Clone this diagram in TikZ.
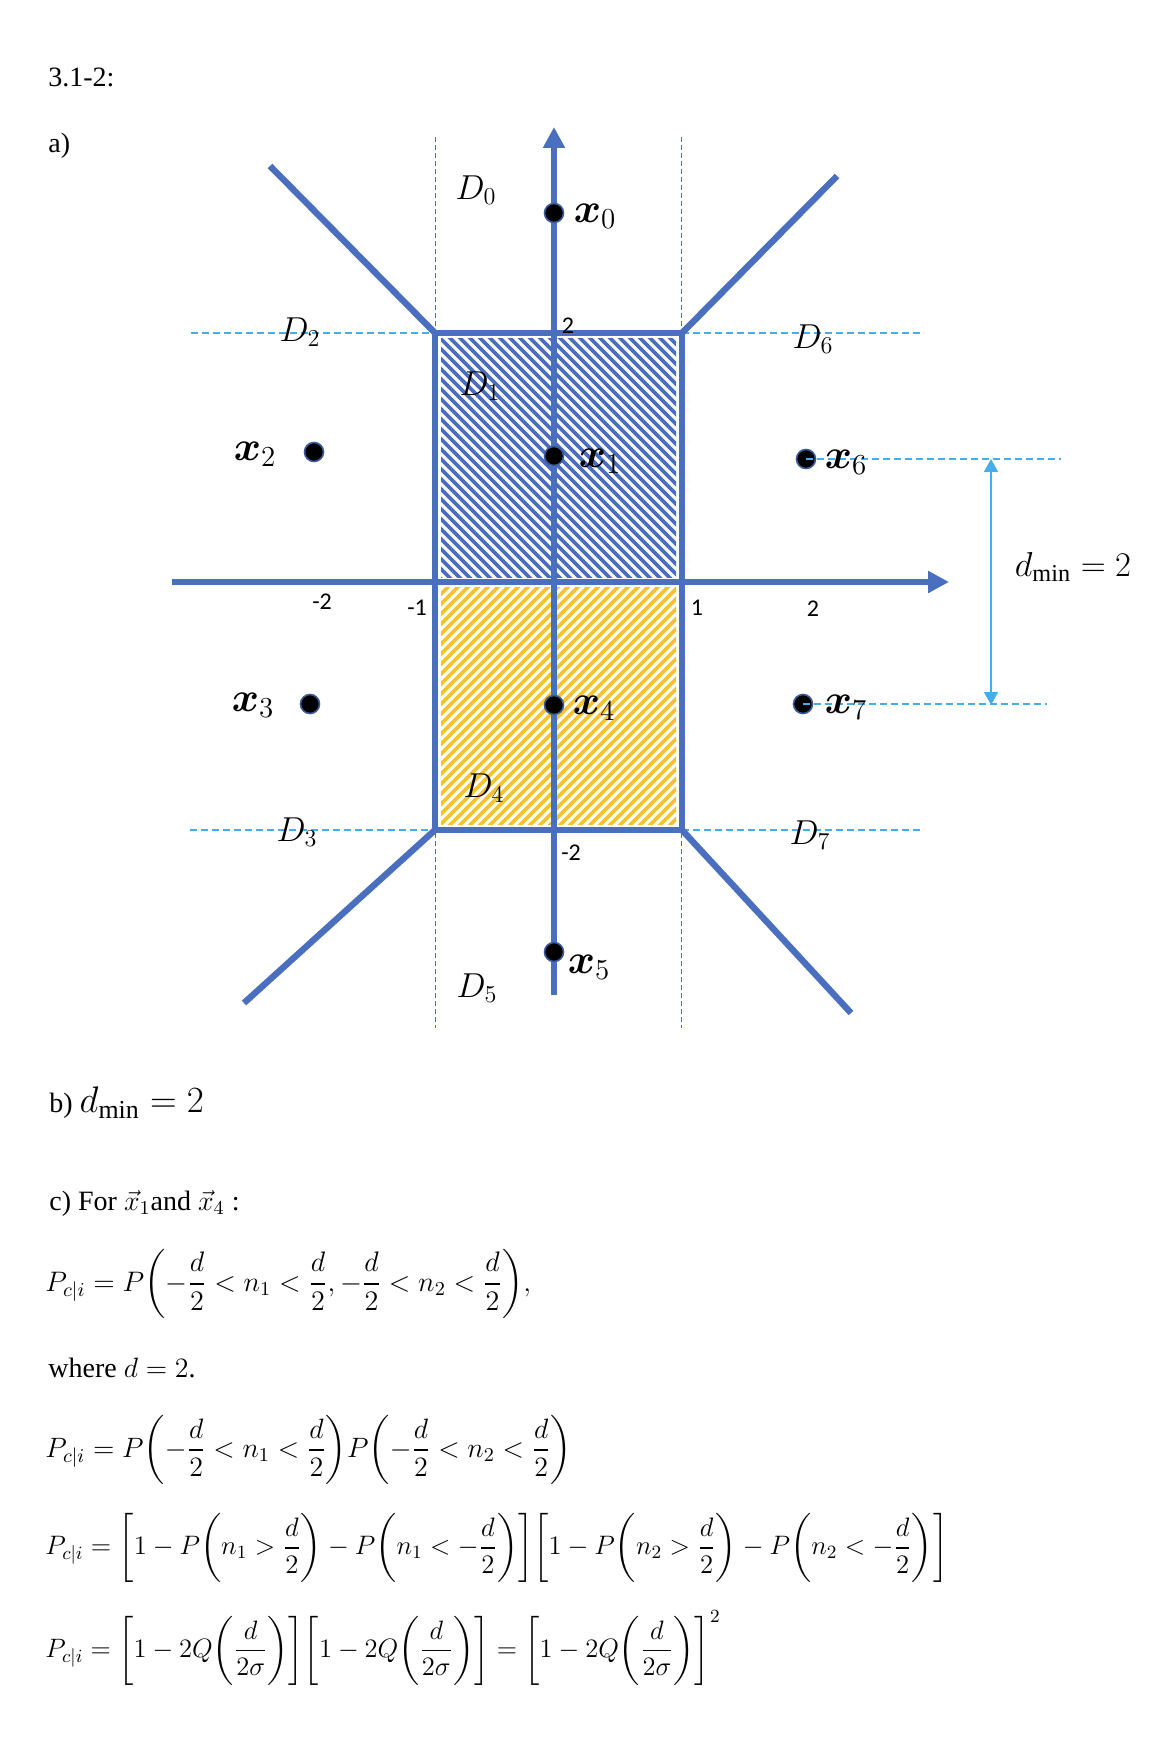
\RequirePackage{fix-cm}
\documentclass[tikz,border=0pt]{standalone}
\usepackage{amsmath}
\usepackage{fontspec}
\setmainfont{Liberation Serif}
\newfontfamily\tickfont{Carlito}
\usetikzlibrary{arrows.meta}
\definecolor{lineblue}{HTML}{4A6FBE}
\definecolor{hatchblue}{HTML}{4A6DBF}
\definecolor{hatchgold}{HTML}{F7C037}
\definecolor{skyblue}{HTML}{45AEEA}
\definecolor{dotrim}{HTML}{3B5A9A}
\tikzset{
  bound/.style={draw=lineblue, line width=3.2pt},
  axis/.style={draw=lineblue, line width=3.2pt, -{Triangle[length=10.5pt,width=10.5pt]}},
  guide/.style={draw=lineblue, line width=0.5pt, dash pattern=on 2.5pt off 1.5pt},
  levelline/.style={draw=skyblue, line width=0.6pt, dash pattern=on 3.5pt off 2pt},
  dminarrow/.style={draw=skyblue, line width=0.8pt, {Triangle[length=6.5pt,width=7pt]}-{Triangle[length=6.5pt,width=7pt]}},
  hatch/.style={draw=#1, line width=1.8pt},
  point/.style={circle, fill=black, draw=dotrim, line width=0.8pt, inner sep=0pt, minimum size=9.5pt},
  region/.style={inner sep=0pt, font=\fontsize{17.3}{20}\selectfont},
  ptlabel/.style={inner sep=0pt, font=\fontsize{20.7}{24}\selectfont},
  tick/.style={inner sep=0pt, font=\tickfont\fontsize{12}{14}\selectfont},
  textline/.style={anchor=west, inner sep=0pt, font=\fontsize{14}{17}\selectfont},
  eqline/.style={anchor=west, inner sep=0pt, font=\fontsize{#1}{17}\selectfont},
  eqline/.default=14
}

\begin{document}
\begin{tikzpicture}[x=0.5pt,y=-0.5pt]
    \useasboundingbox[fill=white] (0,0) rectangle (1164,1748);

    \coordinate (ul) at (435,333);
    \coordinate (ur) at (682,333);
    \coordinate (ml) at (435,582);
    \coordinate (mr) at (682,582);
    \coordinate (ll) at (435,830);
    \coordinate (lr) at (682,830);

    \begin{scope}
        \clip (441,339) rectangle (676,577);
        \foreach \k in {-260,-250,...,260}
            \draw[hatch=hatchblue] (435+\k,333) -- ++(250,250);
    \end{scope}
    \begin{scope}
        \clip (441,587) rectangle (676,824);
        \foreach \k in {-260,-250,...,260}
            \draw[hatch=hatchgold] (435+\k,830) -- ++(250,-250);
    \end{scope}

    \draw[guide] (435,137) -- (435,1028);
    \draw[guide] (681,137) -- (681,1028);
    \draw[levelline] (191,333) -- (ul);
    \draw[levelline] (ur) -- (924,333);
    \draw[levelline] (190,830) -- (ll);
    \draw[levelline] (lr) -- (924,830);

    \draw[bound] (ul) rectangle (lr);
    \draw[bound] (270,166) -- (ul);
    \draw[bound] (ur) -- (837,176);
    \draw[bound] (ll) -- (244,1003);
    \draw[bound] (lr) -- (851,1013);
    \draw[axis] (172,582) -- (949,582);
    \draw[axis] (554,995) -- (554,127);

    \node[point] (x0) at (554,213) {};
    \node[point] (x1) at (554,456) {};
    \node[point] (x2) at (314,452) {};
    \node[point] (x3) at (310,704) {};
    \node[point] (x4) at (554,705) {};
    \node[point] (x5) at (554,952) {};
    \node[point] (x6) at (806,459) {};
    \node[point] (x7) at (803,704) {};

    \draw[levelline] (x6.center) -- ++(255,0);
    \draw[levelline] (x7.center) -- ++(244,0);
    \coordinate (dtop) at (991,459);
    \coordinate (dbot) at (991,705);
    \draw[dminarrow] (dtop) -- (dbot);
    \node[region] (dmin) at (1073,567) {$d_{\min}=2$};

    \node[ptlabel] (x0lab) at (595,216) {$\boldsymbol{x}_0$};
    \node[ptlabel] (x1lab) at (600,461) {$\boldsymbol{x}_1$};
    \node[ptlabel] (x2lab) at (255,454) {$\boldsymbol{x}_2$};
    \node[ptlabel] (x3lab) at (253,705) {$\boldsymbol{x}_3$};
    \node[ptlabel] (x4lab) at (594,708) {$\boldsymbol{x}_4$};
    \node[ptlabel] (x5lab) at (589,967) {$\boldsymbol{x}_5$};
    \node[ptlabel] (x6lab) at (846,462) {$\boldsymbol{x}_6$};
    \node[ptlabel] (x7lab) at (846,707) {$\boldsymbol{x}_7$};

    \node[region] (d0) at (476,190) {$D_0$};
    \node[region] (d1) at (480,386) {$D_1$};
    \node[region] (d2) at (300,332) {$D_2$};
    \node[region] (d3) at (297,832) {$D_3$};
    \node[region] (d4) at (484,788) {$D_4$};
    \node[region] (d5) at (477,988) {$D_5$};
    \node[region] (d6) at (813,339) {$D_6$};
    \node[region] (d7) at (810,835) {$D_7$};

    \node[tick] (tm2) at (322,602) {-2};
    \node[tick] (tm1) at (417,608) {-1};
    \node[tick] (tp1) at (697,608) {1};
    \node[tick] (tp2) at (813,609) {2};
    \node[tick] (ty2) at (568,326) {2};
    \node[tick] (tym2) at (571,853) {-2};

    \node[textline] (title) at (48,77) {3.1-2:};
    \node[textline] (parta) at (48,146) {a)};
    \node[textline] (partb) at (49,1103) {b) {\fontsize{18.5}{20}\selectfont$d_{\min}=2$}};
    \node[textline] (partc) at (49,1203) {c) For $\vec{x}_1$and $\vec{x}_4$ :};
    \node[eqline=14.1] (eq1) at (45,1284) {$\displaystyle P_{c|i}=P{\left(-\frac{d}{2}<n_1<\frac{d}{2},-\frac{d}{2}<n_2<\frac{d}{2}\right)},$};
    \node[textline] (where) at (48,1368) {where $d=2$.};
    \node[eqline] (eq2) at (45,1450) {$\displaystyle P_{c|i}=P{\left(-\frac{d}{2}<n_1<\frac{d}{2}\right)}P{\left(-\frac{d}{2}<n_2<\frac{d}{2}\right)}$};
    \node[eqline=13.35] (eq3) at (45,1548) {$\displaystyle P_{c|i}={\left[1-P{\left(n_1>\frac{d}{2}\right)}-P{\left(n_1<-\frac{d}{2}\right)}\right]}{\left[1-P{\left(n_2>\frac{d}{2}\right)}-P{\left(n_2<-\frac{d}{2}\right)}\right]}$};
    \node[eqline=13.3] (eq4) at (45,1648) {$\displaystyle P_{c|i}={\left[1-2Q{\left(\frac{d}{2\sigma}\right)}\right]}{\left[1-2Q{\left(\frac{d}{2\sigma}\right)}\right]}={\left[1-2Q{\left(\frac{d}{2\sigma}\right)}\right]}^2$};
\end{tikzpicture}
\end{document}
